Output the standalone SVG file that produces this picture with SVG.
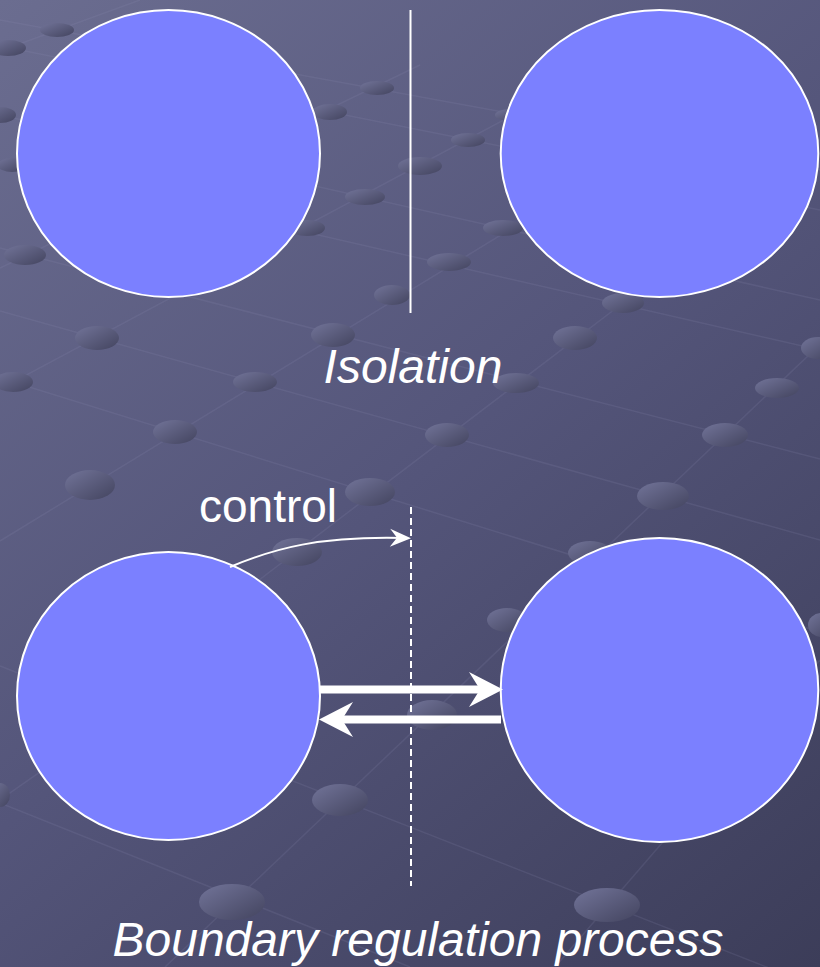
<svg xmlns="http://www.w3.org/2000/svg" width="820" height="967" viewBox="0 0 820 967">
  <style>
    .cell { fill: #7b80ff; stroke: #ffffff; stroke-width: 2; }
    .grid line { stroke: #8c8eb4; stroke-opacity: 0.16; stroke-width: 1.5; }
    .dot { fill: url(#dotShade); }
    .label { fill: #ffffff; font-family: "Liberation Sans", Arial, sans-serif; font-size: 46px; }
    .caption { font-style: italic; text-anchor: middle; font-size: 48px; }
    .barrier { stroke: #ffffff; stroke-width: 2; fill: none; }
    .flow { stroke: #ffffff; stroke-width: 8; fill: none; }
  </style>
  <defs>
    <linearGradient id="bg" gradientUnits="userSpaceOnUse" x1="0" y1="0" x2="820" y2="967">
      <stop offset="0" stop-color="#6b6d90"/>
      <stop offset="0.5" stop-color="#54557a"/>
      <stop offset="1" stop-color="#3c3d59"/>
    </linearGradient>
    <linearGradient id="dotShade" x1="0" y1="0" x2="1" y2="1">
      <stop offset="0" stop-color="#727499"/>
      <stop offset="1" stop-color="#43445f"/>
    </linearGradient>
    <marker id="bigHead" markerUnits="userSpaceOnUse" viewBox="-12 -18 36 36" refX="0" refY="0" markerWidth="36" markerHeight="36" orient="auto">
      <path d="M23,0 L-11,-17.5 L0,0 L-11,17.5 Z" fill="#ffffff"/>
    </marker>
    <marker id="thinHead" markerUnits="userSpaceOnUse" viewBox="-16 -10 24 20" refX="0" refY="0" markerWidth="24" markerHeight="20" orient="auto">
      <path d="M7,0 L-14,-9 L-7,0 L-14,9 Z" fill="#ffffff"/>
    </marker>
  </defs>

  <!-- backdrop with perspective dot grid -->
  <rect width="820" height="967" fill="url(#bg)"/>
  <g class="grid">
    <line x1="165" y1="967" x2="830" y2="335"/>
    <line x1="555" y1="967" x2="820" y2="660"/>
    <line x1="0" y1="541" x2="640" y2="150"/>
    <line x1="200" y1="625" x2="640" y2="290"/>
    <line x1="0" y1="389" x2="560" y2="90"/>
    <line x1="0" y1="268" x2="420" y2="65"/>
    <line x1="0" y1="51" x2="140" y2="0"/>
    <line x1="0" y1="800" x2="120" y2="716"/>
    <line x1="0" y1="666" x2="820" y2="988"/>
    <line x1="0" y1="803" x2="410" y2="967"/>
    <line x1="0" y1="378" x2="820" y2="632"/>
    <line x1="0" y1="311" x2="820" y2="540"/>
    <line x1="0" y1="248" x2="820" y2="459"/>
    <line x1="0" y1="162" x2="820" y2="350"/>
    <line x1="0" y1="115" x2="820" y2="300"/>
    <line x1="0" y1="46" x2="820" y2="210"/>
    <line x1="0" y1="20" x2="820" y2="170"/>
  </g>
  <g>
    <ellipse class="dot" cx="57" cy="30" rx="17" ry="7"/>
    <ellipse class="dot" cx="8" cy="48" rx="18" ry="8"/>
    <ellipse class="dot" cx="0" cy="115" rx="16" ry="8"/>
    <ellipse class="dot" cx="12" cy="165" rx="14" ry="7"/>
    <ellipse class="dot" cx="377" cy="88" rx="17" ry="7"/>
    <ellipse class="dot" cx="330" cy="112" rx="17" ry="8"/>
    <ellipse class="dot" cx="365" cy="197" rx="20" ry="8"/>
    <ellipse class="dot" cx="307" cy="228" rx="18" ry="8"/>
    <ellipse class="dot" cx="25" cy="255" rx="21" ry="10"/>
    <ellipse class="dot" cx="392" cy="295" rx="18" ry="10"/>
    <ellipse class="dot" cx="510" cy="115" rx="15" ry="6"/>
    <ellipse class="dot" cx="468" cy="140" rx="17" ry="7"/>
    <ellipse class="dot" cx="420" cy="166" rx="22" ry="9"/>
    <ellipse class="dot" cx="503" cy="228" rx="20" ry="8"/>
    <ellipse class="dot" cx="449" cy="262" rx="22" ry="9"/>
    <ellipse class="dot" cx="623" cy="303" rx="21" ry="10"/>
    <ellipse class="dot" cx="97" cy="338" rx="22" ry="12"/>
    <ellipse class="dot" cx="333" cy="335" rx="22" ry="12"/>
    <ellipse class="dot" cx="13" cy="382" rx="20" ry="10"/>
    <ellipse class="dot" cx="255" cy="382" rx="22" ry="10"/>
    <ellipse class="dot" cx="175" cy="432" rx="22" ry="12"/>
    <ellipse class="dot" cx="90" cy="485" rx="25" ry="15"/>
    <ellipse class="dot" cx="370" cy="492" rx="25" ry="14"/>
    <ellipse class="dot" cx="297" cy="552" rx="25" ry="14"/>
    <ellipse class="dot" cx="575" cy="338" rx="22" ry="12"/>
    <ellipse class="dot" cx="516" cy="383" rx="23" ry="10"/>
    <ellipse class="dot" cx="447" cy="435" rx="22" ry="12"/>
    <ellipse class="dot" cx="818" cy="348" rx="17" ry="11"/>
    <ellipse class="dot" cx="777" cy="388" rx="22" ry="10"/>
    <ellipse class="dot" cx="725" cy="435" rx="23" ry="12"/>
    <ellipse class="dot" cx="663" cy="496" rx="26" ry="14"/>
    <ellipse class="dot" cx="590" cy="553" rx="22" ry="12"/>
    <ellipse class="dot" cx="507" cy="620" rx="20" ry="12"/>
    <ellipse class="dot" cx="822" cy="625" rx="14" ry="12"/>
    <ellipse class="dot" cx="432" cy="715" rx="25" ry="15"/>
    <ellipse class="dot" cx="340" cy="800" rx="28" ry="16"/>
    <ellipse class="dot" cx="232" cy="902" rx="33" ry="18"/>
    <ellipse class="dot" cx="607" cy="905" rx="33" ry="17"/>
    <ellipse class="dot" cx="0" cy="795" rx="10" ry="12"/>
  </g>

  <!-- Isolation: two closed cells -->
  <g id="cell-a-isolated">
    <ellipse class="cell" cx="168.5" cy="153.5" rx="151.5" ry="143.5"/>
  </g>
  <g id="cell-b-isolated">
    <ellipse class="cell" cx="659.5" cy="153.5" rx="158.8" ry="143.5"/>
  </g>

  <!-- Boundary regulation: two exchanging cells -->
  <g id="cell-a-regulated">
    <ellipse class="cell" cx="168.5" cy="696" rx="151.5" ry="144"/>
  </g>
  <g id="cell-b-regulated">
    <ellipse class="cell" cx="659.5" cy="690" rx="158.8" ry="152"/>
  </g>

  <g id="connectors">
    <line class="barrier" x1="410.5" y1="10" x2="410.5" y2="313"/>
    <line class="barrier" x1="411" y1="507" x2="411" y2="886" stroke-dasharray="7 4"/>
    <path class="barrier" d="M230,567 C275,548 320,536 404,538" marker-end="url(#thinHead)"/>
    <line class="flow" x1="320" y1="689.5" x2="480" y2="689.5" marker-end="url(#bigHead)"/>
    <line class="flow" x1="501" y1="719.5" x2="342" y2="719.5" marker-end="url(#bigHead)"/>
  </g>

  <g id="labels">
    <text class="label caption" x="413" y="383">Isolation</text>
    <text class="label" x="199" y="522">control</text>
    <text class="label caption" x="418" y="956">Boundary regulation process</text>
  </g>
</svg>
